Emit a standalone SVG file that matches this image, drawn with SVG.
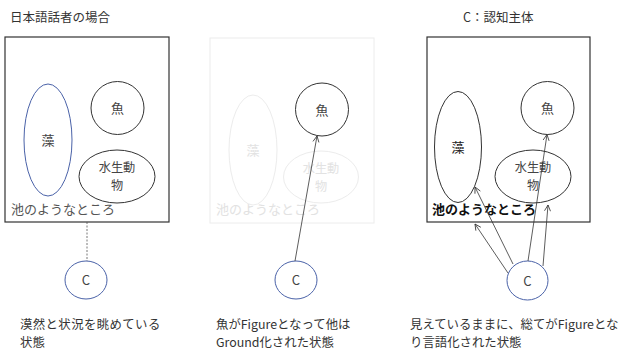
<svg xmlns="http://www.w3.org/2000/svg" width="625" height="351" viewBox="0 0 625 351">
<style>
text{font-family:"Noto Sans CJK JP","Noto Sans",sans-serif;font-size:12.5px;fill:#333}
.lbl{text-anchor:middle;font-size:13px;fill:#444}
.lbl2{text-anchor:middle;font-size:12.2px;fill:#444}
.cap{font-size:12.4px}
.box{fill:none;stroke:#333;stroke-width:1.2}
.shape{fill:none;stroke:#333;stroke-width:1}
.blue{fill:none;stroke:#4a62a8;stroke-width:1}
.faint{fill:none;stroke:#ececec;stroke-width:1}
.ftext{fill:#e2e2e2}
.conn{fill:none;stroke:#333;stroke-width:0.8}
</style>
<defs>
<marker id="arr" markerWidth="8" markerHeight="8" refX="7" refY="4" orient="auto" markerUnits="userSpaceOnUse">
<path d="M1,1 L7,4 L1,7" fill="none" stroke="#333" stroke-width="0.8"/>
</marker>
</defs>

<text x="10" y="22">日本語話者の場合</text>
<text x="463" y="22">C：認知主体</text>

<!-- Panel 1 -->
<g id="p1-pond"><rect class="box" x="5" y="37" width="164" height="185"/><text x="11" y="214" style="font-size:13px;fill:#555">池のようなところ</text></g>
<g id="p1-mo"><ellipse class="blue" cx="48" cy="140" rx="24" ry="56"/><text class="lbl" x="48" y="145">藻</text></g>
<g id="p1-sakana"><circle class="shape" cx="117.5" cy="108" r="26.5"/><text class="lbl" x="117.5" y="113">魚</text></g>
<g id="p1-suisei"><ellipse class="shape" cx="117" cy="176.5" rx="38" ry="26.5"/><text class="lbl2" x="117" y="172">水生動</text><text class="lbl2" x="117" y="190">物</text></g>
<g id="p1-c"><ellipse class="blue" cx="86" cy="280" rx="21" ry="19"/><text class="lbl" x="86" y="285">C</text></g>

<!-- Panel 2 -->
<g id="p2-pond"><rect class="faint" x="210" y="38" width="164" height="185"/><text class="ftext" x="216" y="214" style="font-size:13px">池のようなところ</text></g>
<g id="p2-mo"><ellipse class="faint" cx="253" cy="150" rx="24" ry="55"/><text class="lbl ftext" x="253" y="155">藻</text></g>
<g id="p2-sakana"><circle class="shape" cx="322" cy="109.5" r="26.5"/><text class="lbl" x="322" y="114.5">魚</text></g>
<g id="p2-suisei"><ellipse class="faint" cx="321" cy="177" rx="37.5" ry="26"/><text class="lbl2 ftext" x="321" y="172.5">水生動</text><text class="lbl2 ftext" x="321" y="190.5">物</text></g>
<g id="p2-c"><ellipse class="blue" cx="296" cy="280" rx="21" ry="19"/><text class="lbl" x="296" y="285">C</text></g>

<!-- Panel 3 -->
<g id="p3-pond"><rect class="box" x="427" y="37" width="163" height="185"/><text x="432" y="214" style="font-size:13px;font-weight:bold;fill:#111">池のようなところ</text></g>
<g id="p3-mo"><ellipse class="shape" cx="458" cy="147" rx="23.5" ry="55.5"/><text class="lbl" x="458" y="152" style="fill:#222">藻</text></g>
<g id="p3-sakana"><circle class="shape" cx="547.5" cy="108" r="26.5"/><text class="lbl" x="547.5" y="113">魚</text></g>
<g id="p3-suisei"><ellipse class="shape" cx="533" cy="176.5" rx="38" ry="26.5"/><text class="lbl2" x="533" y="172">水生動</text><text class="lbl2" x="533" y="190">物</text></g>
<g id="p3-c"><ellipse class="blue" cx="527.5" cy="280.5" rx="20.5" ry="19.5"/><text class="lbl" x="527.5" y="285.5">C</text></g>

<!-- Connectors -->
<g id="connectors">
<line x1="87" y1="222" x2="87" y2="261" stroke="#555" stroke-width="0.8" stroke-dasharray="2,1.5"/>
<line class="conn" x1="295" y1="261" x2="317" y2="136" marker-end="url(#arr)"/>
<line class="conn" x1="508" y1="273" x2="475" y2="224" marker-end="url(#arr)"/>
<line class="conn" x1="513" y1="264" x2="475" y2="187" marker-end="url(#arr)"/>
<line class="conn" x1="528" y1="261" x2="547" y2="134.5" marker-end="url(#arr)"/>
<line class="conn" x1="543" y1="266" x2="548" y2="205" marker-end="url(#arr)"/>
</g>

<!-- Captions -->
<text class="cap" x="20" y="329" style="letter-spacing:0.4px">漠然と状況を眺めている</text>
<text class="cap" x="20" y="347">状態</text>
<text class="cap" x="216" y="329">魚がFigureとなって他は</text>
<text class="cap" x="216" y="347">Ground化された状態</text>
<text class="cap" x="410" y="329">見えているままに、総てがFigureとな</text>
<text class="cap" x="410" y="347">り言語化された状態</text>
</svg>
